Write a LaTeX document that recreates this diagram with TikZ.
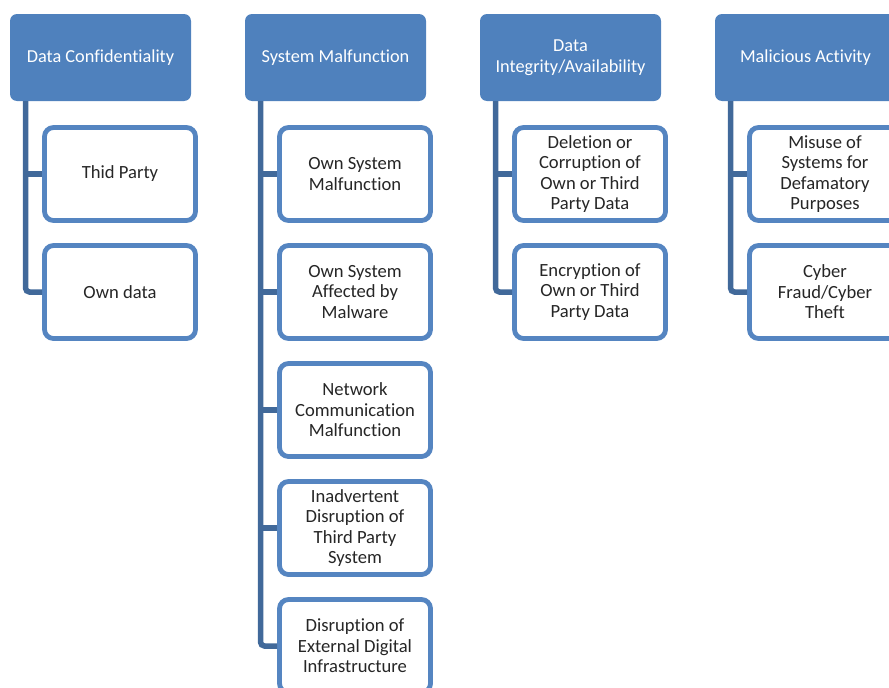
\documentclass[tikz,border=0pt]{standalone}
\usepackage{fontspec}
\setmainfont{Carlito}[Ligatures=NoCommon]
\definecolor{headblue}{HTML}{4F81BD}
\definecolor{boxblue}{HTML}{5585C1}
\definecolor{linkblue}{HTML}{41699A}
\begin{document}
\begin{tikzpicture}[x=1pt,y=-1pt,
  head/.style={fill=headblue,draw=none,rounded corners=7pt,minimum width=181pt,
    minimum height=87pt,inner sep=2pt,align=center,text=white,
    font=\fontsize{18.3}{20.5}\selectfont},
  item/.style={fill=white,draw=boxblue,line width=4.8pt,rounded corners=9pt,
    minimum width=151pt,minimum height=93pt,inner sep=1pt,align=center,
    text=black!85,font=\fontsize{18.6}{20.6}\selectfont},
  link/.style={draw=linkblue,line width=5.5pt,rounded corners=4pt}]
\useasboundingbox (0,0) rectangle (889,688);

% column headers
\node[head] (h1) at (100.5,57.5) {Data Confidentiality};
\node[head] (h2) at (335.5,57.5) {System Malfunction};
\node[head] (h3) at (570.5,57.5) {Data\\Integrity/Availability};
\node[head] (h4) at (805.5,57.5) {Malicious Activity};

% trunk start points below each header
\coordinate (t1) at (25.5,101);
\coordinate (t2) at (260.5,101);
\coordinate (t3) at (495.5,101);
\coordinate (t4) at (730.5,101);

% Data Confidentiality
\node[item] (a1) at (120,174) {Thid Party};
\node[item] (a2) at (120,292) {Own data};

% System Malfunction
\node[item] (b1) at (355,174) {Own System\\Malfunction};
\node[item] (b2) at (355,292) {Own System\\Affected by\\Malware};
\node[item] (b3) at (355,410) {Network\\Communication\\Malfunction};
\node[item] (b4) at (355,528) {Inadvertent\\Disruption of\\Third Party\\System};
\node[item] (b5) at (355,646) {Disruption of\\External Digital\\Infrastructure};

% Data Integrity/Availability
\node[item] (c1) at (590,174) {Deletion or\\Corruption of\\Own or Third\\Party Data};
\node[item] (c2) at (590,292) {Encryption of\\Own or Third\\Party Data};

% Malicious Activity
\node[item] (d1) at (825,174) {Misuse of\\Systems for\\Defamatory\\Purposes};
\node[item] (d2) at (825,292) {Cyber\\Fraud/Cyber\\Theft};

% connectors: trunk with elbow to the last item, stubs to the others
\draw[link] (t1) |- (a2.west);
\draw[link] (t1 |- a1.west) -- (a1.west);

\draw[link] (t2) |- (b5.west);
\foreach \n in {b1,b2,b3,b4} \draw[link] (t2 |- \n.west) -- (\n.west);

\draw[link] (t3) |- (c2.west);
\draw[link] (t3 |- c1.west) -- (c1.west);

\draw[link] (t4) |- (d2.west);
\draw[link] (t4 |- d1.west) -- (d1.west);
\end{tikzpicture}
\end{document}
